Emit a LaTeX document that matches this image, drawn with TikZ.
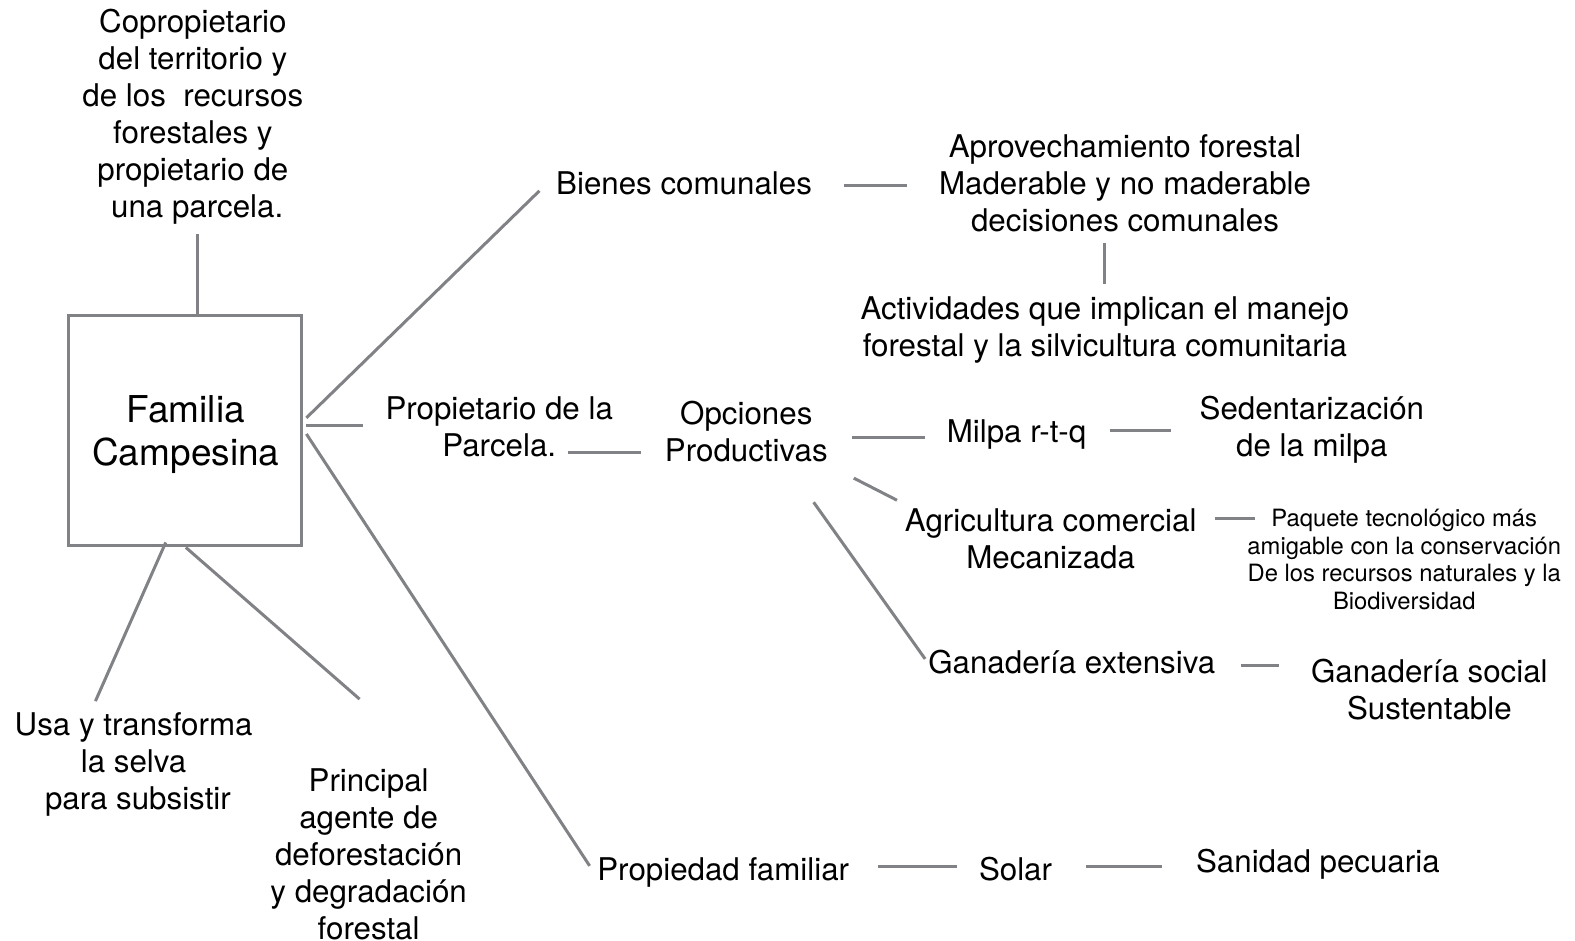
\documentclass[tikz,border=0pt]{standalone}
\usepackage{fontspec}
\setmainfont{TeX Gyre Heros}
\definecolor{linegray}{RGB}{128,130,134}
\tikzset{
  txt/.style={inner sep=0pt, align=center, yshift=-3pt, font=\fontsize{31.3}{37}\selectfont},
  small/.style={inner sep=0pt, align=center, yshift=-3pt, font=\fontsize{23.8}{27.5}\selectfont},
  big/.style={inner sep=0pt, align=center, yshift=-3pt, font=\fontsize{37}{43}\selectfont},
  ln/.style={draw=linegray, line width=3pt},
  famb/.style={draw=linegray, line width=3pt, minimum width=233pt, minimum height=230pt, inner sep=0pt}
}
\begin{document}
\begin{tikzpicture}[x=1.0045pt,y=-1.0045pt]
\useasboundingbox (0,0) rectangle (1568,936);
% nodes
\node[famb] (fam) at (184,428.5) {};
\node[big] (famt) at (185,429.5) {Familia\\Campesina};
\node[txt] (top) at (192,113.5) {Copropietario\\del territorio y\\de los \ recursos\\forestales y\\propietario de\\\ una parcela.};
\node[txt] (bienes) at (681,180) {Bienes comunales};
\node[txt] (aprov) at (1120,179) {Aprovechamiento forestal\\Maderable y no maderable\\decisiones comunales};
\node[txt] (activ) at (1100,325.5) {Actividades que implican el manejo\\forestal y la silvicultura comunitaria};
\node[txt] (prop) at (497,421.5) {Propietario de la\\Parcela.};
\node[txt] (opc) at (743,427) {Opciones\\Productivas};
\node[txt] (milpa) at (1012,430) {Milpa r-t-q};
\node[txt] (sedent) at (1306,425) {Sedentarización\\de la milpa};
\node[txt] (agri) at (1046,533.5) {Agricultura comercial\\Mecanizada};
\node[small] (paq) at (1398,554) {Paquete tecnológico más\\amigable con la conservación\\De los recursos naturales y la\\Biodiversidad};
\node[txt] (ganext) at (1067,656) {Ganadería extensiva};
\node[txt] (gansoc) at (1423,683.5) {Ganadería social\\Sustentable};
\node[txt] (usa) at (133,758) {Usa y transforma\\la selva\\\ para subsistir};
\node[txt] (princ) at (367,848) {Principal\\agente de\\deforestación\\y degradación\\forestal};
\node[txt] (propfam) at (720,866) {Propiedad familiar};
\node[txt] (solar) at (1011,862) {Solar};
\node[txt] (sanidad) at (1312,857) {Sanidad pecuaria};
% connector end points
\coordinate (topB) at (197,233);
\coordinate (famT) at (197,314);
\coordinate (famR1) at (305,416);
\coordinate (bienesL) at (537,190);
\coordinate (famR2) at (305,424);
\coordinate (propL) at (361,424);
\coordinate (famR3) at (305,432);
\coordinate (propfamL) at (587,862);
\coordinate (bienesR) at (840,185);
\coordinate (aprovL) at (903,185);
\coordinate (aprovB) at (1100,242);
\coordinate (activT) at (1100,283);
\coordinate (propR) at (565,450);
\coordinate (opcL) at (638,450);
\coordinate (opcR1) at (848,436);
\coordinate (milpaL) at (921,436);
\coordinate (milpaR) at (1105,429);
\coordinate (sedentL) at (1166,429);
\coordinate (opcR2) at (850,476);
\coordinate (agriL) at (893,498);
\coordinate (agriR) at (1210,516);
\coordinate (paqL) at (1249,516);
\coordinate (opcB) at (810,500);
\coordinate (ganextL) at (921,656);
\coordinate (ganextR) at (1235,663);
\coordinate (gansocL) at (1273,663);
\coordinate (famB1) at (165,540);
\coordinate (usaT) at (95,698);
\coordinate (famB2) at (185,545);
\coordinate (princT) at (358,696);
\coordinate (propfamR) at (874,863);
\coordinate (solarL) at (953,863);
\coordinate (solarR) at (1081,863);
\coordinate (sanidadL) at (1157,863);
% connectors
\draw[ln] (topB) -- (famT);
\draw[ln] (famR1) -- (bienesL);
\draw[ln] (famR2) -- (propL);
\draw[ln] (famR3) -- (propfamL);
\draw[ln] (bienesR) -- (aprovL);
\draw[ln] (aprovB) -- (activT);
\draw[ln] (propR) -- (opcL);
\draw[ln] (opcR1) -- (milpaL);
\draw[ln] (milpaR) -- (sedentL);
\draw[ln] (opcR2) -- (agriL);
\draw[ln] (agriR) -- (paqL);
\draw[ln] (opcB) -- (ganextL);
\draw[ln] (ganextR) -- (gansocL);
\draw[ln] (famB1) -- (usaT);
\draw[ln] (famB2) -- (princT);
\draw[ln] (propfamR) -- (solarL);
\draw[ln] (solarR) -- (sanidadL);
\end{tikzpicture}
\end{document}
